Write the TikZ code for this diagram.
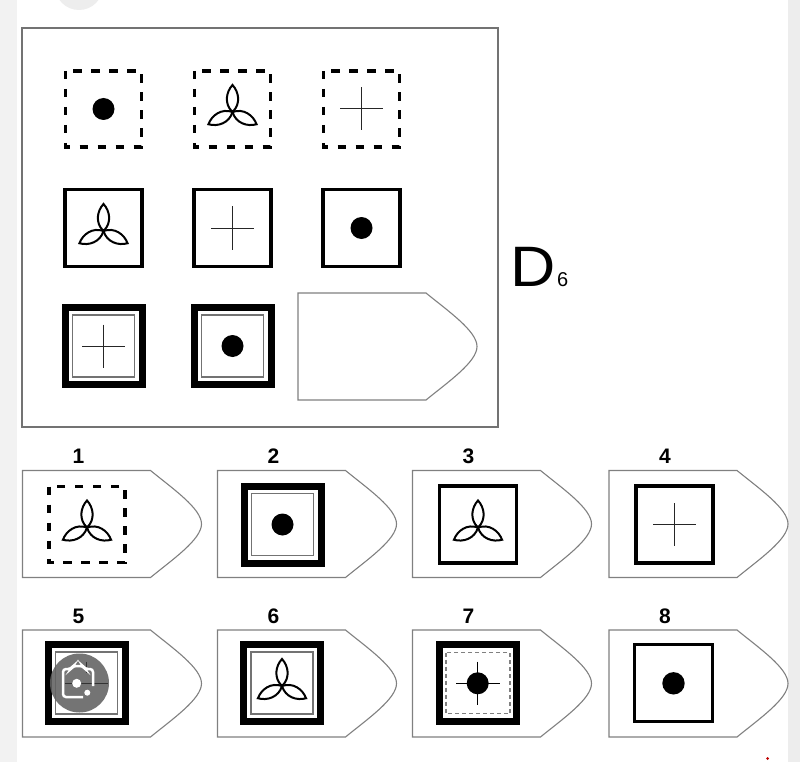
\documentclass[tikz,border=0pt]{standalone}
\usepackage{fontspec}
\setmainfont{Liberation Sans}
\begin{document}
\begin{tikzpicture}[x=1pt,y=-1pt,
  box/.style={line width=1.3pt, draw=black!55},
  tag/.style={draw=black!50, line width=1.1pt, fill=white},
  dsq/.style={line width=3.6pt, dash pattern=on 8.5pt off 9.5pt},
  ssq/.style={line width=3.8pt},
  tsq/.style={line width=7pt},
  isq/.style={line width=1.4pt, draw=black!55},
  crossln/.style={line width=1pt, draw=black!85},
  num/.style={font=\fontsize{21}{21}\selectfont\bfseries, inner sep=0pt},
  petal/.style={line width=2pt},
  dotm/.pic={\fill (0,0) circle (11);},
  crossm/.pic={\draw[crossln] (-21.5,0) -- (21.5,0) (0,-21.5) -- (0,21.5);},
  trefoil/.pic={\foreach \a in {90,207,333} {\draw[petal, rotate=\a] (0,0) .. controls (8,8.5) and (20,6.5) .. (27,0) .. controls (20,-6.5) and (8,-8.5) .. (0,0);}},
  dashsq/.pic={\draw[dsq] (-38,-38) rectangle (38,38);},
  solidsq/.pic={\draw[ssq] (-38.5,-38.5) rectangle (38.5,38.5);},
  thicksq/.pic={\draw[tsq] (-38.5,-38.5) rectangle (38.5,38.5); \draw[isq] (-31,-31) rectangle (31,31);},
  tagshape/.pic={\draw[tag] (0,0) -- (128,0) .. controls (150,18) and (179,38) .. (179,53.5) .. controls (179,69) and (150,89) .. (128,107) -- (0,107) -- cycle;}
]
\useasboundingbox (0,0) rectangle (800,762);
\fill[white] (0,0) rectangle (800,762);
\fill[black!5] (0,0) rectangle (17,762);
\fill[black!7] (788,0) rectangle (800,762);
\fill[black!7] (79,-14) circle (24);

% main matrix
\draw[box] (22,28) rectangle (498,427);
\pic at (103.5,109) {dashsq}; \pic at (103.5,109) {dotm};
\pic at (232.5,109) {dashsq}; \pic at (232.5,112) {trefoil};
\pic at (361.5,109) {dashsq}; \pic at (361.5,109) {crossm};
\pic at (103.5,228) {solidsq}; \pic at (103.5,231) {trefoil};
\pic at (232.5,228) {solidsq}; \pic at (232.5,228) {crossm};
\pic at (361.5,228) {solidsq}; \pic at (361.5,228) {dotm};
\pic at (103.5,346) {thicksq}; \pic at (103.5,346) {crossm};
\pic at (232.5,346) {thicksq}; \pic at (232.5,346) {dotm};
\pic at (298,293) {tagshape};

\node[anchor=base west, inner sep=0pt, font=\fontsize{57}{57}\selectfont, xscale=1.1] (dl) at (510,286) {D};
\node[anchor=base west, inner sep=0pt, font=\fontsize{20}{20}\selectfont] (ds) at (557,286) {6};

% options row 1
\pic at (22.5,470.5) {tagshape};
\pic at (217.5,470.5) {tagshape};
\pic at (412.5,470.5) {tagshape};
\pic at (609,470.5) {tagshape};
\node[num] (n1) at (78.5,456) {1};
\node[num] (n2) at (273.5,456) {2};
\node[num] (n3) at (468.5,456) {3};
\node[num] (n4) at (665,456) {4};
\pic at (87,524.5) {dashsq}; \pic at (87,527.5) {trefoil};
\pic at (282.5,524.5) {thicksq}; \pic at (282.5,524.5) {dotm};
\pic at (478,524.5) {solidsq}; \pic at (478,527.5) {trefoil};
\pic at (674.5,524.5) {solidsq}; \pic at (674.5,524.5) {crossm};

% options row 2
\pic at (22.5,630) {tagshape};
\pic at (217.5,630) {tagshape};
\pic at (412.5,630) {tagshape};
\pic at (609,630) {tagshape};
\node[num] (n5) at (78.5,616.5) {5};
\node[num] (n6) at (273.5,616.5) {6};
\node[num] (n7) at (468.5,616.5) {7};
\node[num] (n8) at (665,616.5) {8};
\pic at (86.5,683) {thicksq};
\pic at (282,683) {thicksq}; \pic at (282,686) {trefoil};
\draw[tsq] (439,644.5) rectangle (516,721.5);
\draw[line width=1.1pt, draw=black!50, dash pattern=on 4pt off 3pt] (446,652.5) rectangle (510,713.5);
\fill (477.7,683.3) circle (11);
\draw[line width=1.5pt] (456,683.3) -- (499.5,683.3) (477.7,661.7) -- (477.7,705);
\draw[line width=3.3pt] (634.5,644.5) rectangle (712.5,721.5);
\fill (673.5,683.3) circle (11.2);

% lens overlay on option 5
\fill[black!62, opacity=0.88] (79.5,683) circle (29.5);
\draw[line width=1pt, draw=black!80] (64.5,683) -- (108,683) (86.5,661.5) -- (86.5,673);
\begin{scope}[shift={(78,682)}]
\draw[white, line width=2.5pt, rounded corners=3pt] (5,15) -- (-15,15) -- (-15,-13) -- (-7,-13) -- (-5,-16) -- (5,-16) -- (7,-13) -- (15,-13) -- (15,4);
\fill[white] (-1.3,1.3) circle (4.5);
\fill[white] (9.3,10.7) circle (3);
\end{scope}

\fill[red!75!black] (767.7,758.5) circle (1.5);
\end{tikzpicture}
\end{document}
